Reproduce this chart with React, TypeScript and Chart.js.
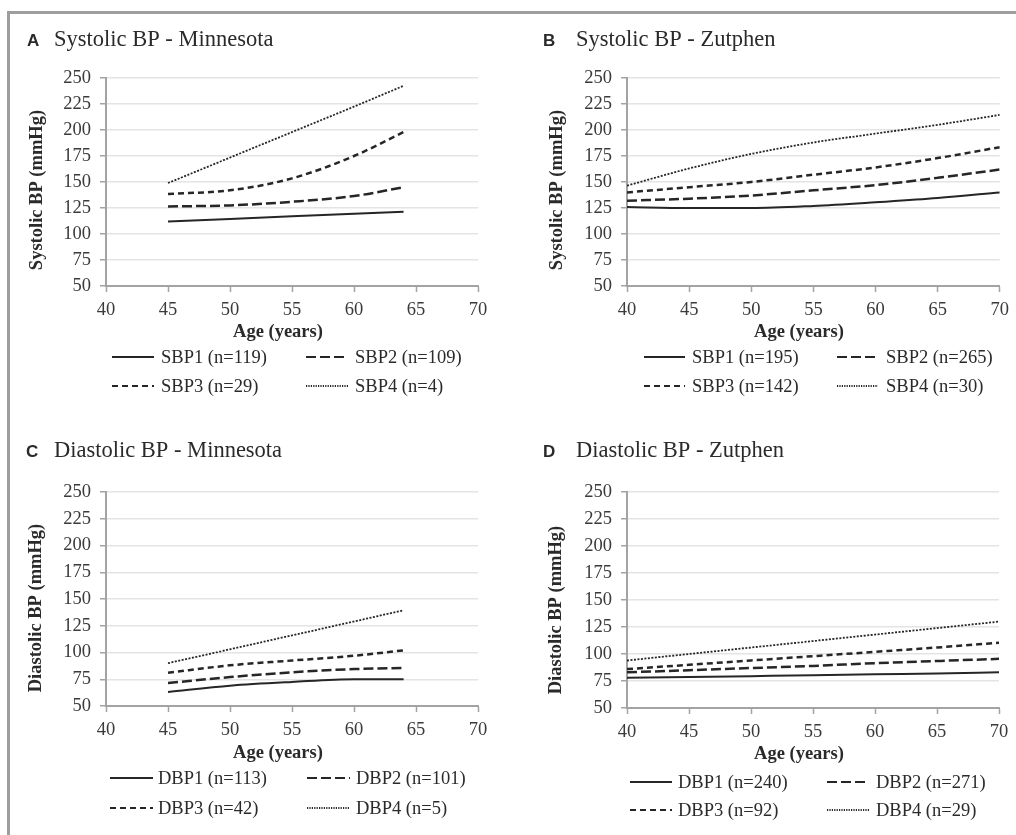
import React, { useEffect, useRef } from "react";
import { Chart, registerables } from "chart.js";

Chart.register(...registerables);

// ---------- data ----------
const minnesotaAges = [45, 50, 55, 60, 64];
const zutphenAges = [40, 45, 50, 55, 60, 65, 70];

const xTickValues = [40, 45, 50, 55, 60, 65, 70];
const yTickValues = [50, 75, 100, 125, 150, 175, 200, 225, 250];

const sbpMinnesota1 = [112, 114.5, 117, 119.5, 121.5];
const sbpMinnesota2 = [126.5, 127.5, 131, 136.5, 145];
const sbpMinnesota3 = [138.5, 142, 153.5, 175, 198];
const sbpMinnesota4 = [149, 173.5, 198, 222.5, 242.5];
const sbpMinnesotaLabels = ["SBP1 (n=119)", "SBP2 (n=109)", "SBP3 (n=29)", "SBP4 (n=4)"];

const sbpZutphen1 = [126, 125, 125, 127, 130.5, 134.5, 140];
const sbpZutphen2 = [132, 134, 137, 142, 147, 154, 162];
const sbpZutphen3 = [140, 145, 150, 157, 164, 173, 183.5];
const sbpZutphen4 = [146.5, 163, 177, 188, 196.5, 205, 214.5];
const sbpZutphenLabels = ["SBP1 (n=195)", "SBP2 (n=265)", "SBP3 (n=142)", "SBP4 (n=30)"];

const dbpMinnesota1 = [63, 69, 72.5, 75, 75];
const dbpMinnesota2 = [71.5, 77, 81.5, 84.5, 85.5];
const dbpMinnesota3 = [81, 88, 92.5, 97, 102];
const dbpMinnesota4 = [90, 103, 116, 129, 139.5];
const dbpMinnesotaLabels = ["DBP1 (n=113)", "DBP2 (n=101)", "DBP3 (n=42)", "DBP4 (n=5)"];

const dbpZutphen1 = [78, 78.7, 79.5, 80.3, 81.2, 82, 83];
const dbpZutphen2 = [83, 85, 87, 89, 91.5, 93.5, 95.5];
const dbpZutphen3 = [86, 90, 94, 98, 102, 106, 110.5];
const dbpZutphen4 = [94, 100, 106, 112, 118, 124, 130];
const dbpZutphenLabels = ["DBP1 (n=240)", "DBP2 (n=271)", "DBP3 (n=92)", "DBP4 (n=29)"];

// ---------- styles ----------
const LINE = "#262626";
const AXIS = "#a3a3a3";
const GRID = "#e4e4e4";
const TEXT = "#2a2a2a";
const SERIF = '"Liberation Serif", "Times New Roman", serif';
const SANS = '"Liberation Sans", Arial, sans-serif';

const seriesStyles = [
  { dash: [] as number[], width: 2 },
  { dash: [10, 4], width: 2.5 },
  { dash: [6, 4], width: 2.5 },
  { dash: [2, 1.5], width: 1.8 },
];

const CW = 508;
const CH = 415;
const Y_AXIS_W = 60;
const X_AXIS_H = 40;

type PanelCfg = {
  letter: string;
  title: string;
  yTitle: string;
  ages: number[];
  series: number[][];
  labels: string[];
  left: number;
  top: number;
  area: { l: number; r: number; t: number; b: number };
  titlePos: { letterX: number; textX: number; base: number };
  xTitlePos: { x: number; y: number };
  yTitlePos: { x: number; y: number };
  legend: { lineX: number[]; len: number; textX: number[]; rows: number[] };
};

const panels: PanelCfg[] = [
  {
    letter: "A",
    title: "Systolic BP - Minnesota",
    yTitle: "Systolic BP (mmHg)",
    ages: minnesotaAges,
    series: [sbpMinnesota1, sbpMinnesota2, sbpMinnesota3, sbpMinnesota4],
    labels: sbpMinnesotaLabels,
    left: 0,
    top: 0,
    area: { l: 106, r: 478, t: 78, b: 286 },
    titlePos: { letterX: 27, textX: 54, base: 46 },
    xTitlePos: { x: 278, y: 332 },
    yTitlePos: { x: 37, y: 190 },
    legend: { lineX: [112, 306], len: 42, textX: [161, 355], rows: [357, 386] },
  },
  {
    letter: "B",
    title: "Systolic BP - Zutphen",
    yTitle: "Systolic BP (mmHg)",
    ages: zutphenAges,
    series: [sbpZutphen1, sbpZutphen2, sbpZutphen3, sbpZutphen4],
    labels: sbpZutphenLabels,
    left: 508,
    top: 0,
    area: { l: 119, r: 492, t: 78, b: 286 },
    titlePos: { letterX: 35, textX: 68, base: 46 },
    xTitlePos: { x: 291, y: 332 },
    yTitlePos: { x: 49, y: 190 },
    legend: { lineX: [136, 329], len: 41, textX: [184, 378], rows: [357, 386] },
  },
  {
    letter: "C",
    title: "Diastolic BP - Minnesota",
    yTitle: "Diastolic BP (mmHg)",
    ages: minnesotaAges,
    series: [dbpMinnesota1, dbpMinnesota2, dbpMinnesota3, dbpMinnesota4],
    labels: dbpMinnesotaLabels,
    left: 0,
    top: 415,
    area: { l: 106, r: 478, t: 77, b: 291 },
    titlePos: { letterX: 26, textX: 54, base: 42 },
    xTitlePos: { x: 278, y: 338 },
    yTitlePos: { x: 36, y: 193 },
    legend: { lineX: [110, 307], len: 43, textX: [158, 356], rows: [363, 393] },
  },
  {
    letter: "D",
    title: "Diastolic BP - Zutphen",
    yTitle: "Diastolic BP (mmHg)",
    ages: zutphenAges,
    series: [dbpZutphen1, dbpZutphen2, dbpZutphen3, dbpZutphen4],
    labels: dbpZutphenLabels,
    left: 508,
    top: 415,
    area: { l: 119, r: 491, t: 77, b: 293 },
    titlePos: { letterX: 35, textX: 68, base: 42 },
    xTitlePos: { x: 291, y: 339 },
    yTitlePos: { x: 48, y: 195 },
    legend: { lineX: [122, 319], len: 42, textX: [170, 368], rows: [367, 395] },
  },
];

function decorPlugin(p: PanelCfg) {
  return {
    id: "decor" + p.letter,
    afterDraw(chart: any) {
      const ctx: CanvasRenderingContext2D = chart.ctx;
      ctx.save();
      ctx.fillStyle = TEXT;
      // panel title
      ctx.textBaseline = "alphabetic";
      ctx.textAlign = "left";
      ctx.font = `bold 17px ${SANS}`;
      ctx.fillText(p.letter, p.titlePos.letterX, p.titlePos.base);
      ctx.font = `22.5px ${SERIF}`;
      ctx.fillText(p.title, p.titlePos.textX, p.titlePos.base);
      // axis titles
      ctx.font = `bold 18.5px ${SERIF}`;
      ctx.textAlign = "center";
      ctx.textBaseline = "middle";
      ctx.fillText("Age (years)", p.xTitlePos.x, p.xTitlePos.y);
      ctx.save();
      ctx.translate(p.yTitlePos.x, p.yTitlePos.y);
      ctx.rotate(-Math.PI / 2);
      ctx.fillText(p.yTitle, 0, 0);
      ctx.restore();
      // legend
      chart.data.datasets.forEach((ds: any, i: number) => {
        const col = i % 2;
        const row = Math.floor(i / 2);
        const y = p.legend.rows[row];
        const x0 = p.legend.lineX[col];
        ctx.save();
        ctx.strokeStyle = ds.borderColor;
        ctx.lineWidth = Math.min(ds.borderWidth, 2);
        ctx.setLineDash(i === 3 ? [1.2, 1.2] : ds.borderDash || []);
        ctx.beginPath();
        ctx.moveTo(x0, y);
        ctx.lineTo(x0 + p.legend.len, y);
        ctx.stroke();
        ctx.restore();
        ctx.font = `18.5px ${SERIF}`;
        ctx.textAlign = "left";
        ctx.textBaseline = "middle";
        ctx.fillStyle = TEXT;
        ctx.fillText(ds.label, p.legend.textX[col], y + 1);
      });
      ctx.restore();
    },
  };
}

function Panel({ p }: { p: PanelCfg }) {
  const ref = useRef<HTMLCanvasElement>(null);
  useEffect(() => {
    const chart = new Chart(ref.current as HTMLCanvasElement, {
      type: "line",
      data: {
        datasets: p.series.map((vals, i) => ({
          label: p.labels[i],
          data: p.ages.map((a, j) => ({ x: a, y: vals[j] })),
          borderColor: LINE,
          borderWidth: seriesStyles[i].width,
          borderDash: seriesStyles[i].dash,
          pointRadius: 0,
          cubicInterpolationMode: "monotone",
          fill: false,
        })),
      },
      options: {
        responsive: false,
        animation: false,
        layout: {
          padding: {
            left: p.area.l - Y_AXIS_W,
            top: p.area.t,
            right: CW - p.area.r,
            bottom: CH - p.area.b - X_AXIS_H,
          },
        },
        scales: {
          x: {
            type: "linear",
            min: 40,
            max: 70,
            afterBuildTicks: (s: any) => {
              s.ticks = xTickValues.map((v) => ({ value: v }));
            },
            afterFit: (s: any) => {
              s.height = X_AXIS_H;
            },
            ticks: {
              font: { family: SERIF, size: 18.5 },
              color: "#3a3a3a",
              padding: 7,
              maxRotation: 0,
              autoSkip: false,
            },
            grid: {
              drawOnChartArea: false,
              drawTicks: true,
              tickLength: 6,
              tickColor: AXIS,
              tickWidth: 1.5,
            },
            border: { display: true, color: AXIS, width: 2 },
          },
          y: {
            type: "linear",
            min: 50,
            max: 250,
            afterBuildTicks: (s: any) => {
              s.ticks = yTickValues.map((v) => ({ value: v }));
            },
            afterFit: (s: any) => {
              s.width = Y_AXIS_W;
            },
            ticks: {
              font: { family: SERIF, size: 18.5 },
              color: "#3a3a3a",
              padding: 9,
              autoSkip: false,
            },
            grid: {
              color: GRID,
              lineWidth: 1.5,
              drawTicks: true,
              tickLength: 6,
              tickColor: AXIS,
              tickWidth: 1.5,
            },
            border: { display: true, color: AXIS, width: 2 },
          },
        },
        plugins: {
          legend: { display: false },
          tooltip: { enabled: false },
          title: { display: false },
        },
      } as any,
      plugins: [decorPlugin(p)],
    });
    return () => chart.destroy();
  }, [p]);
  return (
    <canvas
      ref={ref}
      width={CW}
      height={CH}
      style={{ position: "absolute", left: p.left, top: p.top, width: CW, height: CH }}
    />
  );
}

export default function App() {
  return (
    <div
      style={{
        position: "absolute",
        left: 0,
        top: 0,
        width: 1016,
        height: 835,
        background: "#ffffff",
        overflow: "hidden",
      }}
    >
      {panels.map((p) => (
        <Panel key={p.letter} p={p} />
      ))}
      <div
        style={{
          position: "absolute",
          left: 7,
          top: 11,
          width: 1016,
          height: 840,
          borderTop: "3px solid #9e9e9e",
          borderLeft: "3px solid #9e9e9e",
          boxSizing: "border-box",
          pointerEvents: "none",
        }}
      />
    </div>
  );
}
